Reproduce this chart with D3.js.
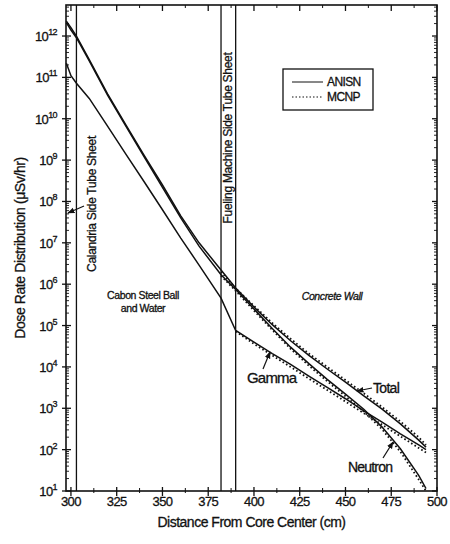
<!DOCTYPE html>
<html>
<head>
<meta charset="utf-8">
<script src="https://cdn.jsdelivr.net/npm/d3@7"></script>
<style>
  body { margin: 0; background: #fff; }
  text { font-family: "Liberation Sans", Arial, sans-serif; fill: #111; stroke: #111; stroke-width: 0.3px; }
</style>
</head>
<body>
<script>
// dose rate through the end shield, ANISN (solid) vs MCNP (dotted)
const distAnisn = [297.5, 300, 303, 310, 320, 330, 340, 350, 360, 370, 382, 390, 400, 410, 420, 430, 440, 450, 460, 470, 480, 490, 494]
const totalAnisn = [2.3e12, 1.6e12, 1.0e12, 2.7e11, 4.0e10, 7.1e9, 1.3e9, 2.5e8, 4.5e7, 1.0e7, 2.2e6, 8.1e5, 2.8e5, 1.05e5, 4.3e4, 1.9e4, 8.9e3, 4.3e3, 2.0e3, 9.5e2, 4.2e2, 1.7e2, 1.15e2]
const gammaAnisn = [2.2e11, 1.1e11, 7.2e10, 3.1e10, 6.6e9, 1.4e9, 3.0e8, 6.3e7, 1.3e7, 2.9e6, 4.6e5, 7.6e4, 4.0e4, 2.1e4, 1.15e4, 6.0e3, 3.2e3, 1.7e3, 8.7e2, 4.6e2, 2.4e2, 1.3e2, 1.0e2]
const neutronAnisn = [2.1e12, 1.4e12, 9.1e11, 2.5e11, 3.7e10, 6.6e9, 1.2e9, 2.2e8, 4.0e7, 8.3e6, 1.7e6, 7.4e5, 2.5e5, 8.5e4, 3.0e4, 1.2e4, 5.0e3, 2.2e3, 9.5e2, 3.5e2, 1.05e2, 24, 11.5]

const distMcnp = [382, 390, 400, 410, 420, 430, 440, 450, 460, 470, 480, 490, 494]
const totalMcnp = [2.0e6, 7.9e5, 3.0e5, 1.15e5, 4.8e4, 2.1e4, 1.0e4, 4.8e3, 2.3e3, 1.07e3, 4.8e2, 2.0e2, 1.3e2]
const distMcnpGamma = [390, 400, 410, 420, 430, 440, 450, 460, 470, 480, 490, 494]
const gammaMcnp = [7.2e4, 3.6e4, 1.9e4, 1.0e4, 5.2e3, 2.75e3, 1.45e3, 7.6e2, 4.0e2, 2.1e2, 1.1e2, 85]
const neutronMcnp = [1.6e6, 6.9e5, 2.3e5, 7.8e4, 2.75e4, 1.07e4, 4.5e3, 1.95e3, 8.3e2, 3.1e2, 89, 19, 10]

const sheetLines = [303, 382, 390]
const xTicks = [300, 325, 350, 375, 400, 425, 450, 475, 500]
const yExps = [1, 2, 3, 4, 5, 6, 7, 8, 9, 10, 11, 12]

const m = { left: 66, right: 437, top: 5, bottom: 491 }

const svg = d3.select('body').append('svg')
    .attr('width', 450)
    .attr('height', 544)

const x = d3.scaleLinear().domain([297.3, 500]).range([m.left, m.right])
const y = d3.scaleLog().domain([10, Math.pow(10, 12.75)]).range([m.bottom, m.top])

const g = svg.append('g')

// frame
g.append('rect')
    .attr('x', m.left).attr('y', m.top)
    .attr('width', m.right - m.left).attr('height', m.bottom - m.top)
    .attr('fill', 'none').attr('stroke', '#111').attr('stroke-width', 1.6)

// x ticks (major + half-way minors), bottom and top
const xMinor = d3.range(312.5, 500, 25)
xTicks.forEach(function(t) {
    g.append('line').attr('x1', x(t)).attr('x2', x(t))
        .attr('y1', m.bottom - 4).attr('y2', m.bottom + 5)
        .attr('stroke', '#111').attr('stroke-width', 1.3)
    g.append('line').attr('x1', x(t)).attr('x2', x(t))
        .attr('y1', m.top).attr('y2', m.top + 6)
        .attr('stroke', '#111').attr('stroke-width', 1.3)
    g.append('text').attr('x', x(t)).attr('y', 506)
        .attr('text-anchor', 'middle').attr('font-size', 13)
        .attr('letter-spacing', -0.6)
        .text(t)
})
xMinor.forEach(function(t) {
    g.append('line').attr('x1', x(t)).attr('x2', x(t))
        .attr('y1', m.bottom - 3).attr('y2', m.bottom + 2)
        .attr('stroke', '#111')
    g.append('line').attr('x1', x(t)).attr('x2', x(t))
        .attr('y1', m.top).attr('y2', m.top + 3)
        .attr('stroke', '#111')
})

// y ticks, decades with minors on both sides
yExps.forEach(function(e) {
    const v = Math.pow(10, e)
    g.append('line').attr('x1', m.left - 4).attr('x2', m.left + 5)
        .attr('y1', y(v)).attr('y2', y(v)).attr('stroke', '#111').attr('stroke-width', 1.3)
    g.append('line').attr('x1', m.right - 5).attr('x2', m.right)
        .attr('y1', y(v)).attr('y2', y(v)).attr('stroke', '#111').attr('stroke-width', 1.3)
    d3.range(2, 10).forEach(function(k) {
        const mv = k * v
        if (mv > y.domain()[1]) return
        g.append('line').attr('x1', m.left).attr('x2', m.left + 3)
            .attr('y1', y(mv)).attr('y2', y(mv)).attr('stroke', '#111').attr('stroke-width', 0.9)
        g.append('line').attr('x1', m.right - 3).attr('x2', m.right)
            .attr('y1', y(mv)).attr('y2', y(mv)).attr('stroke', '#111').attr('stroke-width', 0.9)
    })
    const lab = g.append('text').attr('x', 57).attr('y', y(v) + 5)
        .attr('text-anchor', 'end').attr('font-size', 13).attr('letter-spacing', -0.6)
    lab.append('tspan').text('10')
    lab.append('tspan').attr('font-size', 9).attr('dy', -6).text(e)
})

// tube sheet boundaries
sheetLines.forEach(function(s) {
    g.append('line').attr('x1', x(s)).attr('x2', x(s))
        .attr('y1', m.top).attr('y2', m.bottom)
        .attr('stroke', '#111').attr('stroke-width', 1.3)
})

const line = d3.line()
    .x(function(d) { return x(d[0]) })
    .y(function(d) { return y(d[1]) })

function drawSeries(xs, ys, dotted) {
    g.append('path')
        .attr('d', line(d3.zip(xs, ys)))
        .attr('fill', 'none')
        .attr('stroke', '#111')
        .attr('stroke-width', dotted ? 1.8 : 1.5)
        .attr('stroke-dasharray', dotted ? '1.6,2.4' : null)
}

drawSeries(distAnisn, totalAnisn, false)
drawSeries(distAnisn, gammaAnisn, false)
drawSeries(distAnisn, neutronAnisn, false)
drawSeries(distMcnp, totalMcnp, true)
drawSeries(distMcnpGamma, gammaMcnp, true)
drawSeries(distMcnp, neutronMcnp, true)

// legend
const lg = g.append('g')
lg.append('rect').attr('x', 283).attr('y', 69).attr('width', 90).attr('height', 41)
    .attr('fill', '#fff').attr('stroke', '#111').attr('stroke-width', 1.3)
lg.append('line').attr('x1', 292).attr('x2', 323).attr('y1', 82).attr('y2', 82)
    .attr('stroke', '#111').attr('stroke-width', 1)
lg.append('line').attr('x1', 292).attr('x2', 323).attr('y1', 97).attr('y2', 97)
    .attr('stroke', '#111').attr('stroke-width', 1.2).attr('stroke-dasharray', '1.5,2')
lg.append('text').attr('x', 327).attr('y', 86).attr('font-size', 12).attr('letter-spacing', -0.6).text('ANISN')
lg.append('text').attr('x', 327).attr('y', 101).attr('font-size', 12).attr('letter-spacing', -0.6).text('MCNP')

// region labels
function vtext(cx, cy, size, str) {
    g.append('text')
        .attr('transform', 'translate(' + cx + ',' + cy + ') rotate(-90)')
        .attr('text-anchor', 'middle').attr('font-size', size)
        .attr('letter-spacing', -0.3)
        .text(str)
}
vtext(96, 204, 12, 'Calandria Side Tube Sheet')
vtext(232, 138, 12, 'Fueling Machine Side Tube Sheet')

g.append('text').attr('x', 143).attr('y', 299).attr('text-anchor', 'middle')
    .attr('font-size', 10.5).attr('letter-spacing', -0.4).text('Cabon Steel Ball')
g.append('text').attr('x', 143).attr('y', 312).attr('text-anchor', 'middle')
    .attr('font-size', 10.5).attr('letter-spacing', -0.4).text('and Water')
g.append('text').attr('x', 332).attr('y', 300).attr('text-anchor', 'middle')
    .attr('font-size', 10.5).attr('font-style', 'italic').attr('letter-spacing', -0.4).text('Concrete Wall')

g.append('text').attr('x', 247).attr('y', 383).attr('font-size', 15).attr('letter-spacing', -0.8).text('Gamma')
g.append('text').attr('x', 373).attr('y', 393).attr('font-size', 14).attr('letter-spacing', -0.7).text('Total')
g.append('text').attr('x', 348).attr('y', 472).attr('font-size', 14).attr('letter-spacing', -0.8).text('Neutron')

// arrows
svg.append('defs').append('marker')
    .attr('id', 'ah').attr('viewBox', '0 0 10 10').attr('refX', 9).attr('refY', 5)
    .attr('markerWidth', 6).attr('markerHeight', 6).attr('orient', 'auto')
  .append('path').attr('d', 'M0,1 L10,5 L0,9 Z').attr('fill', '#111')

const arrows = [
    [84, 206, 68, 213],
    [263, 369, 270, 352],
    [372, 388, 357, 391],
    [383, 458, 393, 442]
]
arrows.forEach(function(a) {
    g.append('line').attr('x1', a[0]).attr('y1', a[1]).attr('x2', a[2]).attr('y2', a[3])
        .attr('stroke', '#111').attr('stroke-width', 1.2).attr('marker-end', 'url(#ah)')
})

// axis titles
g.append('text').attr('x', (m.left + m.right) / 2).attr('y', 527)
    .attr('text-anchor', 'middle').attr('font-size', 14).attr('letter-spacing', -0.5)
    .text('Distance From Core Center (cm)')
g.append('text')
    .attr('transform', 'translate(25,' + ((m.top + m.bottom) / 2) + ') rotate(-90)')
    .attr('text-anchor', 'middle').attr('font-size', 14).attr('letter-spacing', -0.4)
    .text('Dose Rate Distribution (μSv/hr)')
</script>
</body>
</html>
